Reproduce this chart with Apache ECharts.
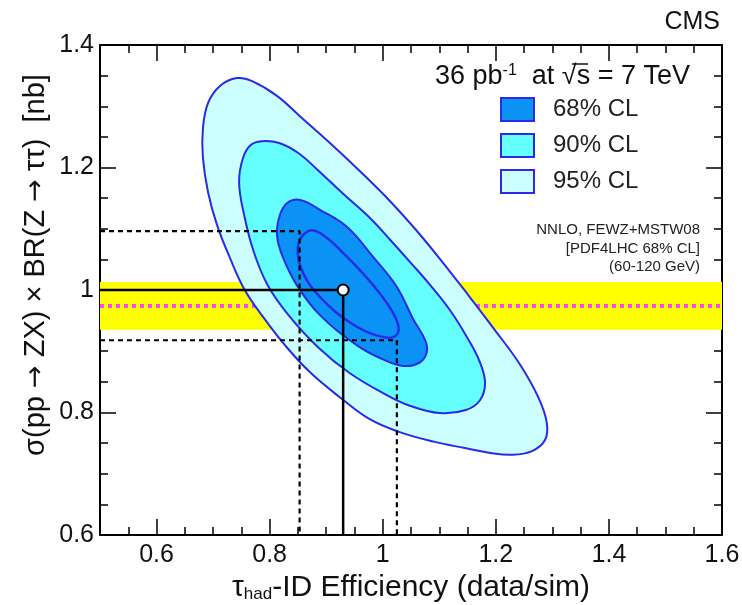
<!DOCTYPE html>
<html>
<head>
<meta charset="utf-8">
<script src="https://cdn.jsdelivr.net/npm/echarts@6/dist/echarts.min.js"></script>
<style>
  html, body { margin: 0; padding: 0; background: #fff; }
  #chart { width: 742px; height: 605px; }
</style>
</head>
<body>
<div id="chart"></div>
<script>
// contour outlines, [efficiency, sigma x BR]
var cl95 = [[0.742, 1.346], [0.769, 1.341], [0.813, 1.317], [0.859, 1.279], [0.910, 1.237], [0.963, 1.191],
  [1.013, 1.145], [1.057, 1.100], [1.101, 1.051], [1.151, 0.992], [1.198, 0.935], [1.243, 0.878],
  [1.275, 0.825], [1.290, 0.784], [1.287, 0.755], [1.264, 0.737], [1.229, 0.731], [1.190, 0.734],
  [1.145, 0.742], [1.092, 0.752], [1.030, 0.768], [0.977, 0.789], [0.924, 0.825], [0.871, 0.866],
  [0.827, 0.910], [0.790, 0.954], [0.756, 1.000], [0.730, 1.052], [0.707, 1.106], [0.691, 1.160],
  [0.682, 1.216], [0.682, 1.264], [0.691, 1.305], [0.712, 1.333]]
var cl90 = [[0.786, 1.243], [0.817, 1.240], [0.850, 1.224], [0.885, 1.196], [0.930, 1.157], [0.977, 1.118],
  [1.013, 1.082], [1.048, 1.046], [1.084, 1.008], [1.119, 0.967], [1.149, 0.923], [1.172, 0.882],
  [1.181, 0.848], [1.172, 0.820], [1.147, 0.804], [1.101, 0.799], [1.048, 0.811], [1.004, 0.830],
  [0.942, 0.864], [0.885, 0.907], [0.836, 0.956], [0.797, 1.007], [0.772, 1.062], [0.755, 1.122],
  [0.746, 1.176], [0.753, 1.216], [0.767, 1.237]]
var cl68 = [[0.854, 1.147], [0.889, 1.131], [0.937, 1.103], [0.983, 1.054], [1.025, 1.005], [1.053, 0.954],
  [1.075, 0.918], [1.078, 0.899], [1.066, 0.882], [1.036, 0.876], [0.995, 0.889], [0.954, 0.910],
  [0.889, 0.959], [0.848, 1.008], [0.822, 1.057], [0.813, 1.090], [0.818, 1.122], [0.831, 1.142]]
var innerLine = [[0.866, 1.095], [0.889, 1.093], [0.937, 1.054], [0.990, 1.000], [1.022, 0.956],
  [1.027, 0.930], [1.008, 0.922], [0.954, 0.940], [0.894, 0.984], [0.859, 1.028], [0.850, 1.070]]

var bestFit = [0.93, 1.0]
var effRange = [0.853, 1.025]     // dashed vertical lines
var xsecRange = [0.918, 1.096]    // dashed horizontal lines
var theory = 0.974
var theoryBand = [0.935, 1.013]

var xTicks = [0.6, 0.8, 1.0, 1.2, 1.4, 1.6]

var blue = '#2a2ae8'
var font = 'Liberation Sans'

var chart = echarts.init(document.getElementById('chart'))

function polygonItem (points, fill, stroke, width) {
  return function (params, api) {
    if (params.dataIndex !== 0) return
    var pts = points.map(function (p) { return api.coord(p) })
    return {
      type: 'polygon',
      shape: { points: pts, smooth: 0.4 },
      style: { fill: fill, stroke: stroke, lineWidth: width }
    }
  }
}

function xAxisDef (pos, major) {
  var a = {
    type: 'value', min: 0.5, max: 1.6, position: pos,
    axisLine: { show: major, onZero: false, lineStyle: { color: '#000', width: 2 } },
    splitLine: { show: false },
    axisLabel: { show: false },
    axisTick: { inside: true, length: major ? 16 : 8, lineStyle: { color: '#000', width: 1.5 } }
  }
  if (major) {
    a.axisTick.customValues = xTicks
  } else {
    a.interval = 0.05
  }
  return a
}

function yAxisDef (pos) {
  return {
    type: 'value', min: 0.6, max: 1.4, interval: 0.2, position: pos,
    axisLine: { show: true, onZero: false, lineStyle: { color: '#000', width: 2 } },
    splitLine: { show: false },
    axisLabel: { show: false },
    axisTick: { inside: true, length: 16, lineStyle: { color: '#000', width: 1.5 } },
    minorTick: { show: true, splitNumber: 4, length: 8, lineStyle: { color: '#000', width: 1.5 } }
  }
}

var xBottom = xAxisDef('bottom', true)
xBottom.axisLabel = {
  show: true, customValues: xTicks, margin: 8,
  fontSize: 25, color: '#111', fontFamily: font
}
xBottom.name = '{t|τ}{s|had}{t|-ID Efficiency (data/sim)}'
xBottom.nameLocation = 'middle'
xBottom.nameGap = 34
xBottom.nameTextStyle = {
  rich: {
    t: { fontSize: 30, color: '#111', fontFamily: font },
    s: { fontSize: 17, color: '#111', fontFamily: font, padding: [12, 0, 0, 0] }
  }
}

var yLeft = yAxisDef('left')
yLeft.axisLabel = { show: true, margin: 6, fontSize: 25, color: '#111', fontFamily: font }

var option = {
  animation: false,
  grid: { left: 100, right: 20, top: 45, bottom: 70, outerBoundsMode: 'none', containLabel: false },
  xAxis: [xBottom, xAxisDef('bottom', false), xAxisDef('top', true), xAxisDef('top', false)],
  yAxis: [yLeft, yAxisDef('right')],
  legend: {
    left: 500, top: 97, orient: 'vertical', padding: 0,
    itemWidth: 33, itemHeight: 23, itemGap: 11,
    icon: 'rect',
    itemStyle: { borderColor: blue, borderWidth: 2 },
    textStyle: { fontSize: 24, color: '#222', fontFamily: font, padding: [0, 0, 0, 14] },
    selectedMode: false,
    data: ['68% CL', '90% CL', '95% CL']
  },
  graphic: [
    {
      type: 'text', x: 36, y: 265, rotation: Math.PI / 2,
      style: {
        text: '{t|σ(pp }{a|→}{t| ZX) × BR(Z }{a|→}{t| ττ)  [nb]}',
        align: 'center', verticalAlign: 'middle',
        rich: {
          t: { fontSize: 29, fill: '#111', fontFamily: font },
          a: { fontSize: 27, fill: '#111', fontFamily: 'DejaVu Sans' }
        }
      }
    },
    {
      type: 'text', x: 720, y: 22,
      style: { text: 'CMS', fontSize: 25, fill: '#111', fontFamily: font, align: 'right', verticalAlign: 'middle' }
    },
    {
      type: 'text', x: 690, y: 77,
      style: {
        text: '{a|36 pb}{s|-1}{a|  at √s = 7 TeV}',
        align: 'right', verticalAlign: 'middle',
        rich: {
          a: { fontSize: 27, fill: '#111', fontFamily: font },
          s: { fontSize: 16, fill: '#111', fontFamily: font, padding: [0, 0, 13, 0] }
        }
      }
    },
    {
      // overline of the square root
      type: 'line', shape: { x1: 572, y1: 64, x2: 588, y2: 64 },
      style: { stroke: '#111', lineWidth: 1.5 }
    },
    {
      type: 'text', x: 700, y: 221,
      style: {
        text: 'NNLO, FEWZ+MSTW08\n[PDF4LHC 68% CL]\n(60-120 GeV)',
        fontSize: 15, lineHeight: 18.5, fill: '#222', fontFamily: font,
        align: 'right', verticalAlign: 'top'
      }
    }
  ],
  series: [
    {
      name: 'theory band', type: 'custom', clip: true, z: 1,
      data: [[0.5, theoryBand[1]], [1.6, theoryBand[0]]],
      renderItem: function (params, api) {
        if (params.dataIndex !== 0) return
        var a = api.coord([0.5, theoryBand[1]])
        var b = api.coord([1.6, theoryBand[0]])
        return { type: 'rect', shape: { x: a[0], y: a[1], width: b[0] - a[0], height: b[1] - a[1] }, style: { fill: '#ffff00' } }
      }
    },
    {
      name: 'theory', type: 'line', z: 1, symbol: 'none',
      data: [[0.5, theory], [1.6, theory]],
      lineStyle: { color: '#ff44ff', width: 4, type: [4, 4] }
    },
    {
      name: '95% CL', type: 'custom', clip: true, z: 2,
      itemStyle: { color: '#ccffff' },
      data: cl95, renderItem: polygonItem(cl95, '#ccffff', blue, 2)
    },
    {
      name: '90% CL', type: 'custom', clip: true, z: 2,
      itemStyle: { color: '#66ffff' },
      data: cl90, renderItem: polygonItem(cl90, '#66ffff', blue, 2)
    },
    {
      name: '68% CL', type: 'custom', clip: true, z: 2,
      itemStyle: { color: '#0a92f5' },
      data: cl68, renderItem: polygonItem(cl68, '#0a92f5', blue, 2)
    },
    {
      name: 'inner', type: 'custom', clip: true, z: 2,
      data: innerLine, renderItem: polygonItem(innerLine, 'none', blue, 2.5)
    },
    {
      name: 'dash h1', type: 'line', z: 3, symbol: 'none',
      data: [[0.5, xsecRange[1]], [effRange[0], xsecRange[1]], [effRange[0], 0.6]],
      lineStyle: { color: '#000', width: 2.2, type: [5, 4] }
    },
    {
      name: 'dash h2', type: 'line', z: 3, symbol: 'none',
      data: [[0.5, xsecRange[0]], [effRange[1], xsecRange[0]], [effRange[1], 0.6]],
      lineStyle: { color: '#000', width: 2.2, type: [5, 4] }
    },
    {
      name: 'best', type: 'line', z: 4, symbol: 'none',
      data: [[0.5, bestFit[1]], bestFit, [bestFit[0], 0.6]],
      lineStyle: { color: '#000', width: 2.5 }
    },
    {
      name: 'best point', type: 'scatter', z: 5,
      data: [bestFit], symbolSize: 11,
      itemStyle: { color: '#fff', borderColor: '#000', borderWidth: 2, opacity: 1 }
    }
  ]
}

chart.setOption(option)
</script>
</body>
</html>
